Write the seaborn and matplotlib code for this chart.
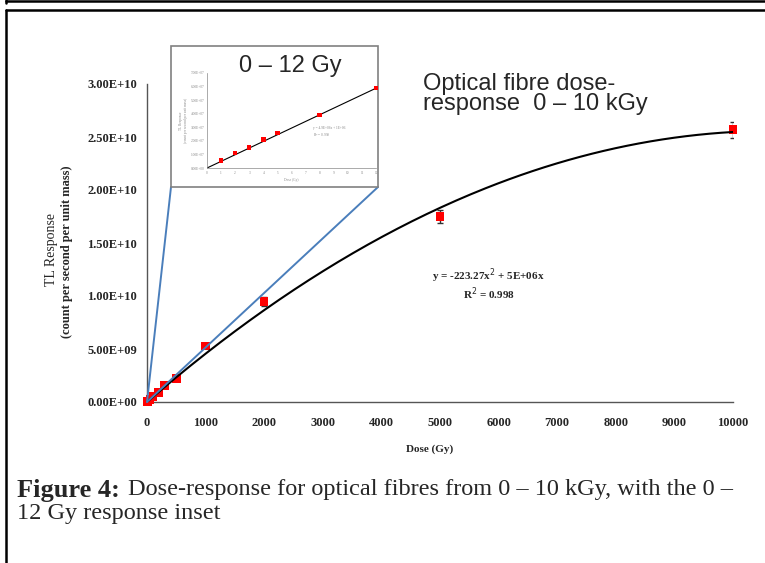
import numpy as np
import pandas as pd
import matplotlib
matplotlib.use("Agg")
import matplotlib.pyplot as plt
import seaborn as sns
from matplotlib.patches import Rectangle, ConnectionPatch
from matplotlib.lines import Line2D

# main dose-response data (0 - 10 kGy)
dose = [0, 10, 20, 50, 100, 200, 300, 500, 1000, 2000, 5000, 10000]
response = [0.0, 0.05e9, 0.1e9, 0.25e9, 0.5e9, 0.88e9, 1.58e9, 2.2e9, 5.3e9, 9.5e9, 17.5e9, 25.7e9]
err_dose = [2000, 5000, 10000]
err_resp = [9.5e9, 17.5e9, 25.7e9]
err_size = [0.45e9, 0.6e9, 0.75e9]

# trendline
fit_a = -223.27
fit_b = 4.78e6

# inset data (0 - 12 Gy)
inset_dose = [1, 2, 3, 4, 5, 8, 12]
inset_resp = [0.55e7, 1.1e7, 1.5e7, 2.1e7, 2.6e7, 3.9e7, 5.9e7]
inset_slope = 4.9e6

x_ticks = [0, 1000, 2000, 3000, 4000, 5000, 6000, 7000, 8000, 9000, 10000]
y_ticks = [0, 5e9, 1e10, 1.5e10, 2e10, 2.5e10, 3e10]
y_ticklabels = ["0.00E+00", "5.00E+09", "1.00E+10", "1.50E+10", "2.00E+10", "2.50E+10", "3.00E+10"]
inset_yticks = [0, 1e7, 2e7, 3e7, 4e7, 5e7, 6e7, 7e7]
inset_yticklabels = ["0.00E+00", "1.00E+07", "2.00E+07", "3.00E+07", "4.00E+07", "5.00E+07", "6.00E+07", "7.00E+07"]

sns.set_style("white")
plt.rcParams['font.family'] = ['Liberation Serif', 'DejaVu Serif']

W, H = 765, 563
fig = plt.figure(figsize=(W / 100, H / 100), dpi=100)

def fx(px):
    return px / W

def fy(py):
    return 1 - py / H

# --- main axes ---
ax = fig.add_axes([fx(147), fy(402), fx(733) - fx(147), fy(84) - fy(402)])

curve_x = np.linspace(0, 10000, 200)
curve = pd.DataFrame({'dose': curve_x, 'resp': fit_a * curve_x ** 2 + fit_b * curve_x})
pts = pd.DataFrame({'dose': dose, 'resp': response})

ax.errorbar(err_dose, err_resp, yerr=err_size, fmt='none', ecolor='#333333',
            elinewidth=1, capsize=2.5, capthick=1, zorder=2)
sns.scatterplot(data=pts, x='dose', y='resp', marker='s', color='#ff0000', s=38,
                edgecolor='none', ax=ax, zorder=3, clip_on=False)
sns.lineplot(data=curve, x='dose', y='resp', color='black', lw=1.5, ax=ax, zorder=4)

ax.set_xlim(0, 10000)
ax.set_ylim(0, 3e10)
ax.set_xticks(x_ticks)
ax.set_xticklabels([str(t) for t in x_ticks], fontweight='bold', fontsize=9)
ax.set_yticks(y_ticks)
ax.set_yticklabels(y_ticklabels, fontweight='bold', fontsize=9)
ax.tick_params(axis='x', direction='out', length=3, width=1, color='#555555', pad=8)
ax.tick_params(axis='y', direction='out', length=3, width=1, color='#555555', pad=4)
for s in ['top', 'right']:
    ax.spines[s].set_visible(False)
for s in ['left', 'bottom']:
    ax.spines[s].set_color('#555555')
    ax.spines[s].set_linewidth(1)
ax.set_xlabel('')
ax.set_ylabel('')

fig.text(fx(430), fy(449), 'Dose (Gy)', fontsize=8, fontweight='bold', ha='center', va='center')
fig.text(fx(52), fy(250), 'TL Response', fontsize=10, rotation=90, ha='center', va='center')
fig.text(fx(67), fy(252), '(count per second per unit mass)', fontsize=9, fontweight='bold',
         rotation=90, ha='center', va='center')

fig.text(fx(488), fy(276), 'y = -223.27x$^{2}$ + 5E+06x', fontsize=8, fontweight='bold',
         ha='center', va='center')
fig.text(fx(489), fy(294), 'R$^{2}$ = 0.998', fontsize=8, fontweight='bold',
         ha='center', va='center')

fig.text(fx(423), fy(94), 'Optical fibre dose-\nresponse  0 \u2013 10 kGy', fontsize=17,
         family='Liberation Sans', ha='left', va='center', linespacing=0.9)

# --- connector lines to the inset ---
for corner in [171, 378]:
    con = ConnectionPatch(xyA=(0, 0), coordsA=ax.transData,
                          xyB=(fx(corner), fy(187)), coordsB=fig.transFigure,
                          color='#4a7ebb', lw=1.4, zorder=1)
    fig.add_artist(con)

# --- inset frame and axes ---
frame = Rectangle((fx(171), fy(187)), fx(378) - fx(171), fy(46) - fy(187),
                  transform=fig.transFigure, facecolor='white', edgecolor='#808080',
                  lw=1.2, zorder=2)
fig.add_artist(frame)
fig.text(fx(290), fy(66), '0 \u2013 12 Gy', fontsize=17, family='Liberation Sans',
         ha='center', va='center', zorder=4)

iax = fig.add_axes([fx(207), fy(168), fx(376) - fx(207), fy(73) - fy(168)], zorder=3)
iax.patch.set_alpha(0)
line_x = np.array([0, 12])
sns.lineplot(x=line_x, y=inset_slope * line_x, color='black', lw=0.8, ax=iax)
sns.scatterplot(x=inset_dose, y=inset_resp, marker='s', color='#ff0000', s=10,
                edgecolor='none', ax=iax, zorder=3, clip_on=False)
iax.set_xlim(0, 12)
iax.set_ylim(0, 7e7)
iax.set_xticks(range(13))
iax.set_xticklabels([str(t) for t in range(13)], fontsize=2.5, color='#888888')
iax.set_yticks(inset_yticks)
iax.set_yticklabels(inset_yticklabels, fontsize=2.5, color='#888888')
iax.tick_params(length=1, width=0.4, pad=1, color='#888888')
for s in ['top', 'right']:
    iax.spines[s].set_visible(False)
for s in ['left', 'bottom']:
    iax.spines[s].set_color('#888888')
    iax.spines[s].set_linewidth(0.5)
iax.set_xlabel('Dose (Gy)', fontsize=2.5, color='#888888', labelpad=2)
iax.set_ylabel('TL Response\n(count per second per unit mass)', fontsize=2.5,
               color='#888888', labelpad=2)
iax.text(7.5, 2.3e7, 'y = 4.9E+06x + 1E+06\nR$^2$ = 0.999', fontsize=2.5, color='#888888')

# --- page borders ---
for xs, ys in [([6, W], [1, 1]), ([6.5, 6.5], [0, 3]),
               ([6, W], [10, 10]), ([6.5, 6.5], [10, H])]:
    fig.add_artist(Line2D([fx(x) for x in xs], [fy(y) for y in ys],
                          transform=fig.transFigure, color='black', lw=1.8))

# --- caption ---
renderer = fig.canvas.get_renderer()
bold = fig.text(fx(17), fy(490), 'Figure 4:', fontsize=19, fontweight='bold',
                ha='left', va='center')
bb = bold.get_window_extent(renderer)
fig.text(bb.x1 / W + fx(8), fy(490),
         'Dose-response for optical fibres from 0 \u2013 10 kGy, with the 0 \u2013',
         fontsize=17.5, ha='left', va='center')
fig.text(fx(17), fy(514), '12 Gy response inset', fontsize=17.5, ha='left', va='center')

fig.savefig('out.png', dpi=100)
